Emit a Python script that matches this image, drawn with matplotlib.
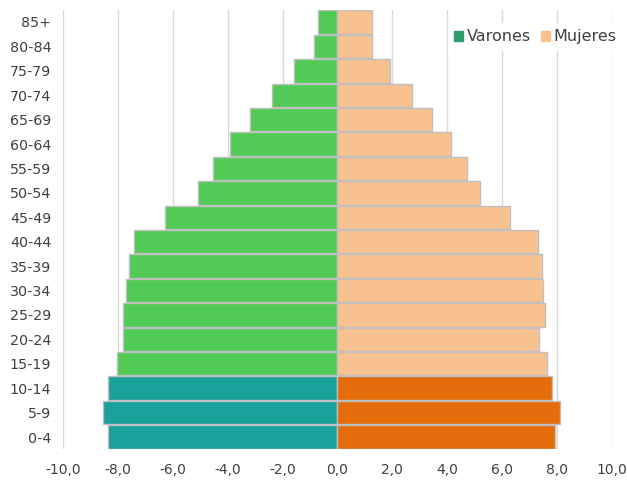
import matplotlib.pyplot as plt
import matplotlib.patches as mpatches
import numpy as np

# age groups, bottom to top
grupos = ['0-4', '5-9', '10-14', '15-19', '20-24', '25-29', '30-34', '35-39',
          '40-44', '45-49', '50-54', '55-59', '60-64', '65-69', '70-74',
          '75-79', '80-84', '85+']
varones = [8.35, 8.56, 8.35, 8.05, 7.8, 7.8, 7.69, 7.58, 7.4, 6.27, 5.1,
           4.55, 3.93, 3.2, 2.37, 1.57, 0.87, 0.7]
mujeres = [7.93, 8.12, 7.83, 7.64, 7.35, 7.55, 7.49, 7.44, 7.3, 6.27, 5.2,
           4.72, 4.15, 3.46, 2.73, 1.93, 1.27, 1.27]
xticks = [-10, -8, -6, -4, -2, 0, 2, 4, 6, 8, 10]

plt.rcParams['font.family'] = ['DejaVu Sans']
text_color = '#404040'

fig = plt.figure(figsize=(6.27, 4.82), dpi=100)
ax = fig.add_axes([0.1005, 0.068, 0.8755, 0.9117])

y = np.arange(len(grupos))
# the youngest three groups are highlighted in darker colours
col_v = ['#1AA19B' if i < 3 else '#51CB55' for i in range(len(grupos))]
col_m = ['#E46C0B' if i < 3 else '#F8C190' for i in range(len(grupos))]

ax.barh(y, [-v for v in varones], height=0.96, color=col_v,
        edgecolor='#BFBFBF', linewidth=1.0, zorder=3)
ax.barh(y, mujeres, height=0.96, color=col_m,
        edgecolor='#BFBFBF', linewidth=1.0, zorder=3)

ax.set_xlim(-10, 10)
ax.set_ylim(-0.5, len(grupos) - 0.5)
ax.set_xticks(xticks)
ax.set_xticklabels([f'{t:.1f}'.replace('.', ',') for t in xticks],
                   fontsize=10, color=text_color)
ax.set_yticks(y)
ax.set_yticklabels(grupos, fontsize=10.3, color=text_color)
ax.tick_params(length=0)
ax.tick_params(axis='y', pad=8.5)
ax.tick_params(axis='x', pad=10)
ax.grid(axis='x', color='#D9D9D9', linewidth=1.0, zorder=0)
for s in ax.spines.values():
    s.set_visible(False)

handles = [mpatches.Patch(color='#2F9E6C', label='Varones'),
           mpatches.Patch(color='#F8C190', label='Mujeres')]
leg = fig.legend(handles=handles, loc='upper right', ncol=2, frameon=True,
                 fontsize=11.5, handlelength=0.55, handleheight=0.55,
                 handletextpad=0.25, columnspacing=0.6, borderpad=0.4,
                 borderaxespad=0, fancybox=False,
                 bbox_to_anchor=(623 / 627, 1 - 23 / 482))
leg.get_frame().set_facecolor('white')
leg.get_frame().set_edgecolor('none')
leg.get_frame().set_alpha(1)
for t in leg.get_texts():
    t.set_color(text_color)

fig.savefig('out.png', dpi=100)
